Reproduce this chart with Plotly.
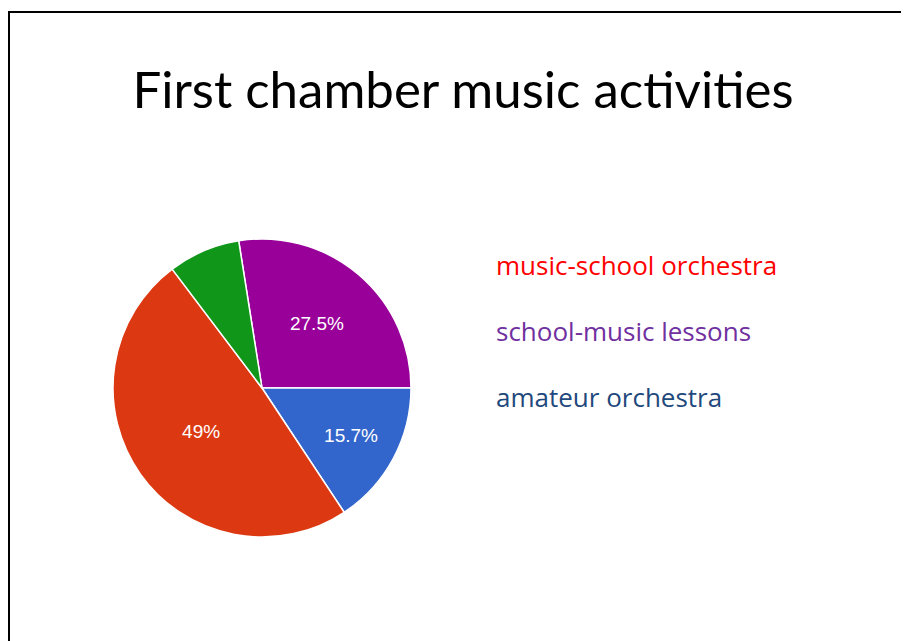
import plotly.graph_objects as go

W, H = 909, 641

# Data
labels = ["school-music lessons", "amateur orchestra", "music-school orchestra", "other"]
values = [27.5, 15.7, 49.0, 7.8]
slice_colors = ["#990099", "#3366CC", "#DC3912", "#109618"]
slice_text = ["%{percent}", "%{percent}", "%{percent}", ""]

legend_labels = ["music-school orchestra", "school-music lessons", "amateur orchestra"]
legend_colors = ["#FF0000", "#7030A0", "#1F497D"]

title_text = "First chamber music activities"

# page has an 8px body margin; positions below are given in page pixels
OFF = 8


def px_x(x):
    return (x - OFF) / W


def px_y(y):
    return 1 - (y - OFF) / H


fig = go.Figure(
    go.Pie(
        labels=labels,
        values=values,
        sort=False,
        direction="clockwise",
        rotation=-9,
        marker=dict(colors=slice_colors, line=dict(color="white", width=1.5)),
        texttemplate=slice_text,
        textposition="inside",
        insidetextorientation="horizontal",
        textfont=dict(family="Liberation Sans, Arial", size=19, color="white"),
        hoverinfo="label+percent",
        domain=dict(x=[px_x(113), px_x(411)], y=[px_y(538), px_y(238)]),
        showlegend=False,
    )
)

annotations = []
legend_y = [265, 331, 397]
for lab, col, yy in zip(legend_labels, legend_colors, legend_y):
    annotations.append(
        dict(
            text=lab,
            x=px_x(494),
            y=px_y(yy),
            xref="paper",
            yref="paper",
            xanchor="left",
            yanchor="middle",
            showarrow=False,
            font=dict(family="Open Sans, sans-serif", size=26, color=col),
        )
    )

fig.update_layout(
    width=W,
    height=H,
    margin=dict(l=0, r=0, t=0, b=0),
    paper_bgcolor="white",
    plot_bgcolor="white",
    title=dict(
        text=title_text,
        x=px_x(463),
        xanchor="center",
        y=px_y(90),
        yanchor="middle",
        font=dict(family="Lato, Open Sans, sans-serif", size=51, color="#000000"),
    ),
    annotations=annotations,
    shapes=[
        dict(
            type="rect",
            xref="paper",
            yref="paper",
            x0=px_x(9),
            x1=px_x(940),
            y0=px_y(670),
            y1=px_y(12),
            line=dict(color="black", width=2),
            fillcolor="rgba(0,0,0,0)",
            layer="above",
        )
    ],
)

fig.write_html("out.html")
